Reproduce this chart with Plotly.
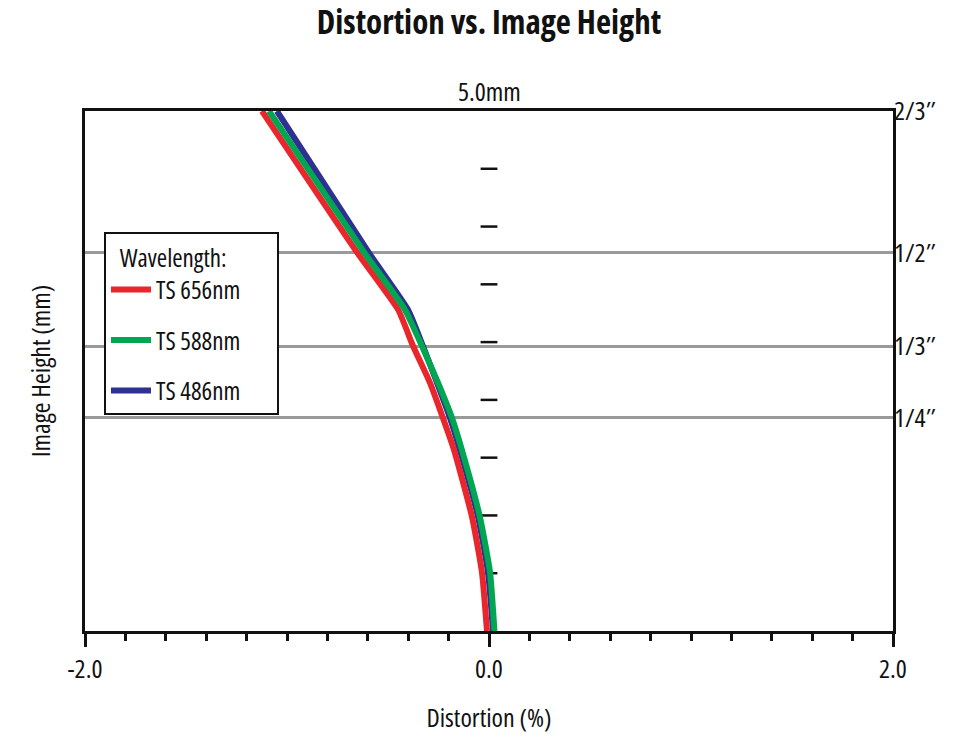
import plotly.graph_objects as go

# ---- data ----
image_height_mm = [0.0, 0.567, 1.096, 1.740, 2.048, 2.385, 2.740, 3.09, 3.635, 5.0]
dist_656 = [-0.010, -0.035, -0.084, -0.173, -0.228, -0.292, -0.376, -0.450, -0.651, -1.124]
dist_588 = [0.027, 0.005, -0.045, -0.134, -0.183, -0.252, -0.332, -0.416, -0.616, -1.089]
dist_486 = [0.020, -0.005, -0.054, -0.144, -0.193, -0.257, -0.327, -0.401, -0.594, -1.050]

sensor_heights_mm = [2.05, 2.74, 3.635, 5.0]
sensor_labels = ["1/4″", "1/3″", "1/2″", "2/3″"]
center_ticks_mm = [k * 5.0 / 9 for k in range(1, 9)]
x_tick_vals = [-2.0, 0.0, 2.0]
x_tick_text = ["-2.0", "0.0", "2.0"]

RED = "#e8262b"
GREEN = "#00a651"
BLUE = "#2e3192"
FONT = "Open Sans, sans-serif"

fig = go.Figure()

fig.add_trace(go.Scatter(x=[None], y=[None], yaxis="y2", showlegend=False, hoverinfo="skip"))

fig.add_trace(go.Scatter(
    x=[0.0] * len(center_ticks_mm), y=center_ticks_mm, mode="markers",
    marker=dict(symbol="line-ew", size=12, line=dict(width=2.5, color="#111")),
    showlegend=False, hoverinfo="skip"))

def curve(xs, name, color, grp, rank):
    return go.Scatter(x=xs, y=image_height_mm, name=name, mode="lines",
                      line=dict(color=color, width=6, shape="spline", smoothing=0.5),
                      legendgroup=grp, legendrank=rank)

fig.add_trace(curve(dist_486, "TS 486nm", BLUE, "c", 3))
fig.add_trace(curve(dist_656, "TS 656nm", RED, "a", 1))
fig.add_trace(curve(dist_588, "TS 588nm", GREEN, "b", 2))

fig.update_layout(
    width=978, height=739,
    margin=dict(l=85, r=85, t=111, b=108),
    paper_bgcolor="white", plot_bgcolor="white",
    font=dict(family=FONT, color="#111", size=20),
    title=dict(text="<b>Distortion vs. Image Height</b>", x=0.5, xanchor="center",
               y=0.97, yanchor="middle", font=dict(size=33, family=FONT)),
    xaxis=dict(range=[-2, 2], tickvals=x_tick_vals, ticktext=x_tick_text,
               ticks="outside", ticklen=13, tickwidth=2.5, tickcolor="#111",
               minor=dict(dtick=0.2, ticks="outside", ticklen=7, tickwidth=2.5, tickcolor="#111", showgrid=False),
               showgrid=False, zeroline=False, showline=True, linecolor="#111", linewidth=2.5,
               mirror=True, tickfont=dict(size=26),
               title=dict(text="Distortion (%)", font=dict(size=26), standoff=24)),
    yaxis=dict(range=[0, 5], showticklabels=False, ticks="", showgrid=False, zeroline=False,
               showline=True, linecolor="#111", linewidth=2.5, mirror=True,
               title=dict(text="Image Height (mm)", font=dict(size=26), standoff=25)),
    yaxis2=dict(range=[0, 5], overlaying="y", side="right", tickvals=sensor_heights_mm,
                ticktext=sensor_labels, showgrid=True, gridcolor="#9a9a9a", gridwidth=2.5,
                ticks="", zeroline=False, showline=False, tickfont=dict(size=26)),
    legend=dict(x=0.0235, y=0.767, xanchor="left", yanchor="top",
                bgcolor="white", bordercolor="#111", borderwidth=2,
                title=dict(text="Wavelength:", font=dict(size=25), side="top center"),
                font=dict(size=25), tracegroupgap=15, traceorder="grouped",
                itemwidth=40),
    annotations=[dict(x=0, y=5, xref="x", yref="y", text="5.0mm", showarrow=False,
                      yanchor="bottom", yshift=0, font=dict(size=26))],
)

post = """
var st = document.createElement('style');
st.textContent = 'svg text { font-stretch: 75% !important; }';
document.head.appendChild(st);
var gd = document.getElementById('{plot_id}');
Plotly.relayout(gd, {});
"""
fig.write_html("out.html", post_script=post)
